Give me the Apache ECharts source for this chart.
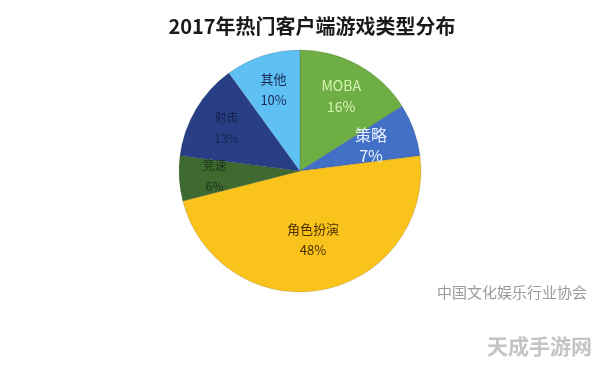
<!DOCTYPE html>
<html>
<head>
<meta charset="utf-8">
<script src="https://cdn.jsdelivr.net/npm/echarts@6/dist/echarts.min.js"></script>
<style>
html,body{margin:0;padding:0;background:#fff;}
#chart{width:596px;height:367px;}
</style>
</head>
<body>
<div id="chart"></div>
<script>
const titleText = '2017年热门客户端游戏类型分布';
const categories = ['MOBA', '策略', '角色扮演', '竞速', '射击', '其他'];
const values = [16, 7, 48, 6, 13, 10];
const sliceColors = ['#6fae44', '#4270c6', '#f9c31c', '#3e6a30', '#283f86', '#5fc1f3'];
const labelColors = ['#d4f5b0', '#e8f0ff', '#4a3000', '#1c3318', '#16224e', '#1a2a58'];
const labelSizes = [14, 16, 13, 12, 12, 13];
const sourceText = '中国文化娱乐行业协会';
const siteText = '天成手游网';

const font = '"Noto Sans CJK SC", "Noto Sans", sans-serif';
const center = [300, 171];
const R = 121;

const baseData = categories.map((c, i) => ({
  name: c, value: values[i], itemStyle: { color: sliceColors[i] }
}));

function labelData(showFn) {
  return categories.map((c, i) => ({
    name: c, value: values[i],
    itemStyle: { color: 'rgba(0,0,0,0)' },
    label: {
      show: showFn(i),
      color: labelColors[i],
      fontSize: labelSizes[i]
    }
  }));
}

function labelSeries(inner, showFn) {
  return {
    type: 'pie', center: center, radius: [inner, R], startAngle: 90, clockwise: true,
    silent: true, labelLine: { show: false },
    label: {
      position: 'inside', fontFamily: font, lineHeight: 21,
      formatter: p => p.name + '\n' + p.value + '%'
    },
    data: labelData(showFn)
  };
}

const chart = echarts.init(document.getElementById('chart'), null, { renderer: 'canvas' });
chart.setOption({
  backgroundColor: '#ffffff',
  animation: false,
  title: {
    text: titleText,
    left: 307, top: 11, textAlign: 'center',
    textStyle: { fontFamily: font, fontSize: 20, fontWeight: 'bold', color: '#1a1a1a' }
  },
  graphic: [
    { type: 'text', left: 437, top: 285,
      style: { text: sourceText, font: '15px ' + font, fill: '#9a9a9a' } },
    { type: 'text', left: 487, top: 336,
      style: { text: siteText, font: 'bold 21px ' + font, fill: '#c4c4c4' } }
  ],
  series: [
    {
      type: 'pie', center: center, radius: [0, R], startAngle: 90, clockwise: true,
      silent: true, label: { show: false }, labelLine: { show: false },
      itemStyle: { borderColor: 'rgba(40,40,40,0.25)', borderWidth: 0.6 },
      data: baseData
    },
    labelSeries(44, i => i !== 2 && i !== 1),
    labelSeries(24, i => i === 1),
    labelSeries(12, i => i === 2)
  ]
});
</script>
</body>
</html>
